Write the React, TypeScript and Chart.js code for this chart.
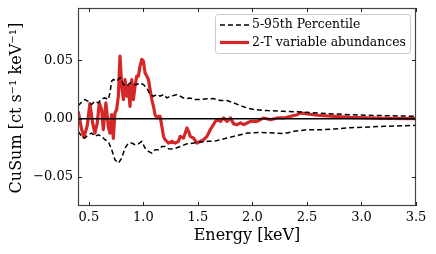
import React, { useEffect, useRef } from "react";
import { Chart, registerables } from "chart.js";

Chart.register(...registerables);

const redEnergy = [0.402,0.433,0.454,0.485,0.509,0.534,0.555,0.577,0.595,0.617,0.632,0.656,0.678,0.693,0.709,0.724,0.739,0.755,0.770,0.785,0.801,0.816,0.831,0.847,0.862,0.877,0.893,0.908,0.923,0.939,0.954,0.969,0.985,1.000,1.015,1.031,1.046,1.061,1.077,1.092,1.107,1.123,1.138,1.153,1.169,1.184,1.199,1.230,1.261,1.291,1.322,1.337,1.368,1.399,1.414,1.429,1.460,1.491,1.521,1.552,1.583,1.613,1.644,1.660,1.675,1.706,1.736,1.767,1.798,1.828,1.859,1.890,1.920,1.951,1.982,2.043,2.104,2.166,2.227,2.288,2.350,2.411,2.442,2.503,2.595,2.748,2.902,3.055,3.209,3.500];
const redCusum = [0.0060,-0.0090,-0.0160,-0.0060,0.0130,-0.0037,-0.0124,-0.0037,0.0135,0.0078,-0.0095,0.0135,-0.0066,-0.0124,0.0034,-0.0170,0.0049,0.0078,0.0193,0.0537,0.0279,0.0164,0.0336,0.0193,0.0279,0.0106,0.0336,0.0164,0.0279,0.0365,0.0365,0.0451,0.0509,0.0494,0.0394,0.0365,0.0336,0.0250,0.0164,0.0106,0.0034,0.0006,0.0020,0.0020,-0.0066,-0.0152,-0.0181,-0.0210,-0.0195,-0.0210,-0.0195,-0.0152,-0.0167,-0.0080,-0.0109,-0.0152,-0.0167,-0.0210,-0.0195,-0.0181,-0.0152,-0.0095,-0.0050,-0.0023,-0.0009,-0.0023,0.0006,-0.0023,0.0006,-0.0045,-0.0052,-0.0037,-0.0052,-0.0037,-0.0023,-0.0023,0.0006,-0.0009,0.0006,0.0006,0.0020,0.0034,0.0049,0.0040,0.0029,0.0020,0.0011,0.0006,0.0003,0.0000];

const upperEnergy = [0.402,0.433,0.463,0.494,0.525,0.555,0.586,0.617,0.647,0.678,0.693,0.709,0.724,0.755,0.785,0.816,0.847,0.877,0.908,0.939,0.969,1.000,1.031,1.061,1.092,1.123,1.153,1.184,1.215,1.245,1.276,1.307,1.337,1.368,1.399,1.429,1.460,1.521,1.583,1.644,1.706,1.767,1.828,1.890,1.951,2.012,2.135,2.288,2.442,2.595,2.748,2.902,3.055,3.209,3.500];
const upperCusum = [0.0112,0.0141,0.0164,0.0149,0.0121,0.0149,0.0135,0.0170,0.0178,0.0164,0.0221,0.0322,0.0336,0.0322,0.0351,0.0293,0.0279,0.0307,0.0293,0.0293,0.0307,0.0293,0.0264,0.0207,0.0193,0.0207,0.0193,0.0207,0.0178,0.0193,0.0198,0.0207,0.0193,0.0178,0.0172,0.0178,0.0164,0.0164,0.0170,0.0172,0.0155,0.0155,0.0135,0.0112,0.0092,0.0078,0.0069,0.0063,0.0057,0.0049,0.0040,0.0034,0.0029,0.0026,0.0020];

const lowerEnergy = [0.402,0.433,0.463,0.494,0.525,0.555,0.586,0.617,0.647,0.678,0.709,0.739,0.770,0.801,0.831,0.862,0.893,0.923,0.954,0.985,1.015,1.046,1.077,1.107,1.138,1.169,1.199,1.230,1.276,1.337,1.399,1.460,1.521,1.583,1.644,1.706,1.767,1.828,1.890,1.951,2.074,2.196,2.288,2.380,2.503,2.626,2.748,2.902,3.055,3.209,3.500];
const lowerCusum = [-0.0109,-0.0152,-0.0167,-0.0138,-0.0124,-0.0152,-0.0138,-0.0152,-0.0181,-0.0195,-0.0267,-0.0353,-0.0382,-0.0339,-0.0253,-0.0210,-0.0210,-0.0224,-0.0216,-0.0195,-0.0253,-0.0282,-0.0296,-0.0267,-0.0267,-0.0239,-0.0239,-0.0259,-0.0261,-0.0239,-0.0216,-0.0210,-0.0201,-0.0195,-0.0195,-0.0181,-0.0167,-0.0152,-0.0138,-0.0124,-0.0118,-0.0124,-0.0129,-0.0109,-0.0095,-0.0095,-0.0089,-0.0078,-0.0072,-0.0066,-0.0057];

const xTicks = [0.5, 1.0, 1.5, 2.0, 2.5, 3.0, 3.5];
const yTicks = [-0.05, 0.0, 0.05];
const legendLabels = ["5-95th Percentile", "2-T variable abundances"];
const xTitle = "Energy [keV]";
const yTitle = "CuSum [ct s\u207B\u00B9 keV\u207B\u00B9]";

const FONT = "'DejaVu Serif', serif";
const RED = "#d62728";

const pts = (xs: number[], ys: number[]) => xs.map((x, i) => ({ x, y: ys[i] }));

const fmtY = (v: number) => (v < 0 ? "\u2212" + Math.abs(v).toFixed(2) : v.toFixed(2));

const decorPlugin = {
  id: "decor",
  beforeDatasetsDraw(chart: any) {
    const ctx = chart.ctx;
    const { left, right, top, bottom } = chart.chartArea;
    ctx.save();
    ctx.fillStyle = "#fff";
    ctx.fillRect(left, top, right - left, bottom - top);
    ctx.restore();
  },
  afterDatasetsDraw(chart: any) {
    const ctx = chart.ctx;
    const xs = chart.scales.x;
    const ys = chart.scales.y;
    const { left, right, top, bottom } = chart.chartArea;
    ctx.save();
    // zero line
    const y0 = ys.getPixelForValue(0);
    ctx.strokeStyle = "#000";
    ctx.lineWidth = 1.5;
    ctx.beginPath();
    ctx.moveTo(left, y0);
    ctx.lineTo(right, y0);
    ctx.stroke();

    // frame
    ctx.strokeStyle = "#444";
    ctx.lineWidth = 1.2;
    ctx.strokeRect(left + 0.5, top + 0.5, right - left - 1, bottom - top - 1);

    // ticks inward
    const tl = 4;
    ctx.strokeStyle = "#222";
    ctx.lineWidth = 1;
    ctx.beginPath();
    xTicks.forEach((v) => {
      const px = Math.round(xs.getPixelForValue(v)) + 0.5;
      ctx.moveTo(px, bottom);
      ctx.lineTo(px, bottom - tl);
      ctx.moveTo(px, top);
      ctx.lineTo(px, top + tl);
    });
    yTicks.forEach((v) => {
      const py = Math.round(ys.getPixelForValue(v)) + 0.5;
      ctx.moveTo(left, py);
      ctx.lineTo(left + tl, py);
      ctx.moveTo(right, py);
      ctx.lineTo(right - tl, py);
    });
    ctx.stroke();

    // tick labels
    ctx.fillStyle = "#000";
    ctx.font = "13px " + FONT;
    ctx.textAlign = "center";
    ctx.textBaseline = "middle";
    xTicks.forEach((v) => {
      ctx.fillText(v.toFixed(1), xs.getPixelForValue(v), bottom + 11.5);
    });
    ctx.textAlign = "right";
    yTicks.forEach((v) => {
      ctx.fillText(fmtY(v), left - 5, ys.getPixelForValue(v));
    });

    // axis titles
    ctx.font = "16px " + FONT;
    ctx.textAlign = "center";
    ctx.fillText(xTitle, (left + right) / 2, bottom + 30);
    ctx.save();
    ctx.translate(17, (top + bottom) / 2 + 1);
    ctx.rotate(-Math.PI / 2);
    ctx.fillText(yTitle, 0, 0);
    ctx.restore();

    // legend
    const lx = 215, ly = 14, lw = 195, lh = 39;
    ctx.fillStyle = "rgba(255,255,255,0.85)";
    ctx.strokeStyle = "#ccc";
    ctx.lineWidth = 1;
    ctx.beginPath();
    (ctx as any).roundRect(lx + 0.5, ly + 0.5, lw, lh, 3);
    ctx.fill();
    ctx.stroke();

    ctx.font = "12.4px " + FONT;
    ctx.textAlign = "left";
    ctx.fillStyle = "#000";
    // entry 1
    ctx.strokeStyle = "#000";
    ctx.lineWidth = 1.5;
    ctx.setLineDash([5, 3]);
    ctx.beginPath();
    ctx.moveTo(220, 25);
    ctx.lineTo(249, 25);
    ctx.stroke();
    ctx.setLineDash([]);
    ctx.fillText(legendLabels[0], 252, 25);
    // entry 2
    ctx.strokeStyle = RED;
    ctx.lineWidth = 3.2;
    ctx.beginPath();
    ctx.moveTo(220, 42.5);
    ctx.lineTo(249, 42.5);
    ctx.stroke();
    ctx.fillText(legendLabels[1], 252, 42.5);
    ctx.restore();
  },
};

export default function App() {
  const ref = useRef<HTMLCanvasElement | null>(null);
  useEffect(() => {
    if (!ref.current) return;
    const chart = new Chart(ref.current, {
      type: "line",
      data: {
        datasets: [
          {
            label: legendLabels[0],
            data: pts(upperEnergy, upperCusum),
            borderColor: "#000",
            borderWidth: 1.5,
            borderDash: [5, 3],
            pointRadius: 0,
            tension: 0,
            fill: false,
          },
          {
            label: legendLabels[0] + " low",
            data: pts(lowerEnergy, lowerCusum),
            borderColor: "#000",
            borderWidth: 1.5,
            borderDash: [5, 3],
            pointRadius: 0,
            tension: 0,
            fill: false,
          },
          {
            label: legendLabels[1],
            data: pts(redEnergy, redCusum),
            borderColor: RED,
            borderWidth: 3.2,
            pointRadius: 0,
            tension: 0,
            fill: false,
            borderJoinStyle: "round",
          },
        ],
      },
      options: {
        animation: false,
        responsive: false,
        maintainAspectRatio: false,
        layout: { padding: { left: 0, right: 20, top: 8, bottom: 0 } },
        plugins: { legend: { display: false }, tooltip: { enabled: false } },
        scales: {
          x: {
            type: "linear",
            min: 0.4,
            max: 3.5,
            grid: { display: false },
            border: { display: false },
            ticks: { display: false },
            afterFit: (s: any) => {
              s.height = 48;
            },
          },
          y: {
            type: "linear",
            min: -0.075,
            max: 0.095,
            grid: { display: false },
            border: { display: false },
            ticks: { display: false },
            afterFit: (s: any) => {
              s.width = 78;
            },
          },
        },
      },
      plugins: [decorPlugin],
    } as any);
    return () => chart.destroy();
  }, []);
  return (
    <div style={{ position: "absolute", left: 0, top: 0, width: 436, height: 254, background: "#fff" }}>
      <canvas ref={ref} width={436} height={254} style={{ width: 436, height: 254 }} />
    </div>
  );
}
